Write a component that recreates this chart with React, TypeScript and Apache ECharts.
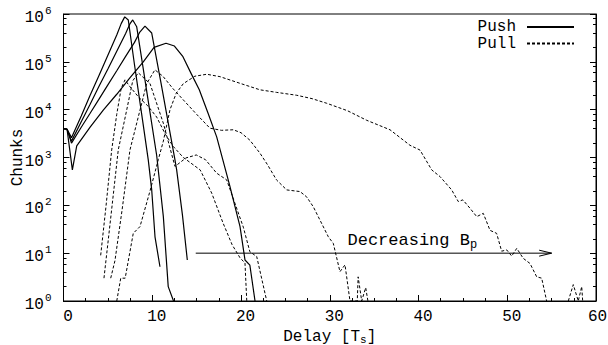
import React, { useEffect, useRef } from 'react';
import * as echarts from 'echarts';

const FONT = '"Liberation Mono", "DejaVu Sans Mono", monospace';

// Push curves (solid): [delay, chunks]
const pushA: [number, number][] = [
  [0, 4000], [0.4, 3900], [0.9, 2600], [2, 7400], [3, 20000], [4, 52000], [5, 138000],
  [6, 363000], [6.5, 630000], [6.9, 870000], [7.3, 750000], [8, 87000], [9, 4600],
  [9.55, 890], [9.94, 210], [10.31, 22], [10.87, 5.2],
];
const pushB: [number, number][] = [
  [0, 4000], [0.4, 3900], [0.9, 2200], [2, 5600], [3, 13000], [4, 31000], [5, 71000],
  [6, 166000], [7, 390000], [7.5, 630000], [7.8, 750000], [8.25, 540000], [9, 69000],
  [9.75, 8700], [10.5, 1100], [11.25, 58], [11.8, 2], [12.4, 1],
];
const pushC: [number, number][] = [
  [0, 4000], [0.4, 3900], [0.9, 2000], [2, 4300], [3, 8400], [4, 16600], [5, 33000],
  [6, 65000], [7, 130000], [8, 255000], [8.6, 420000], [9.18, 560000], [9.94, 400000],
  [11, 35000], [12, 3300], [12.56, 890], [12.75, 550], [13.4, 63], [13.95, 7.2],
];
const pushD: [number, number][] = [
  [0, 4000], [0.4, 3900], [1.0, 550], [1.49, 1750], [3, 4300], [4.48, 9800], [6, 21000],
  [7.5, 47000], [8.99, 100000], [10.2, 200000], [11.55, 245000], [12.5, 214000],
  [13.46, 128000], [14.4, 56000], [15.3, 26000], [16.3, 8300], [17.26, 2700],
  [18.76, 245], [19.89, 36], [20.45, 7.2], [21.0, 5.6], [21.58, 1],
];

// Pull curves (dashed)
const pullA: [number, number][] = [
  [4.19, 9], [4.8, 100], [5.43, 1440], [6.0, 8000], [6.5, 28000], [6.93, 42000],
  [7.5, 30000], [8.5, 18000], [9.5, 12000], [10.5, 7000], [11.5, 3000], [12.37, 1700],
  [13.5, 1000], [15.4, 550], [16.7, 180], [17.97, 43], [19.0, 15], [19.89, 8],
  [20.45, 6.2], [20.65, 1],
];
const pullB: [number, number][] = [
  [4.56, 3], [5.0, 16], [5.6, 160], [6.17, 1440], [7.12, 9800], [7.8, 40000],
  [8.43, 59000], [9.1, 45000], [9.75, 35000], [11.25, 5200], [12.56, 650], [13.8, 980],
  [14.96, 1130], [16.0, 900], [17.26, 470], [18.39, 340], [20.26, 35], [21.0, 10.7],
  [21.77, 8.5], [22.9, 1],
];
const pullC: [number, number][] = [
  [5.32, 3], [5.8, 7], [6.6, 80], [7.49, 1440], [8.62, 9800], [9.37, 35000],
  [10.3, 68000], [11.2, 50000], [12.3, 28000], [13.5, 16000], [15, 8000], [16.5, 4100],
  [17.8, 3700], [19.13, 3800], [20, 3300], [21, 2300], [22.14, 1230], [23, 700],
  [24, 340], [25.15, 210], [26.65, 194], [27.4, 150], [28.15, 93], [29.84, 22],
  [30.4, 16], [31.15, 4.1], [31.72, 5.7], [32.28, 1], [33.1, 1], [33.2, 3.2],
  [33.6, 1], [34.05, 1.9], [34.3, 1],
];
const pullD: [number, number | null][] = [
  [6.0, 1], [6.45, 3], [6.95, 3], [7.86, 26], [8.62, 36], [9.75, 200], [10.68, 900],
  [11.25, 2200], [12.0, 10000], [12.7, 22000], [13.5, 35000], [14.8, 50000],
  [16.14, 55000], [17.63, 49000], [20, 35000], [22.14, 26000], [24, 23000],
  [26.28, 20000], [28, 17000], [29.66, 13600], [32, 9500], [34.16, 6000],
  [36.79, 3800], [39.04, 1800], [40.17, 1430], [41.49, 550], [42.42, 400],
  [43.74, 210], [44.48, 120], [45.0, 130], [45.8, 87], [46.56, 58], [47.3, 68],
  [48.06, 30], [48.8, 26], [49.37, 11], [49.94, 11.7], [50.5, 8.7], [51.07, 12.6],
  [51.8, 7.8], [52.56, 6.1], [53.32, 3.2], [53.88, 3], [54.44, 1], [55.5, null],
  [56.88, 1], [57.44, 2.2], [58.0, 1], [58.39, 2], [58.5, 1],
];

const pushCurves = [pushA, pushB, pushC, pushD];
const pullCurves = [pullA, pullB, pullC, pullD];

const legendNames = ['Push', 'Pull'];
const xName = 'Delay [T{s|s}]';
const yName = 'Chunks';
const xRange = [0, 60];
const xStep = 10;
const yRange = [1, 1e6];
const minorMantissas = [2, 4, 6, 8];

const annotation = 'Decreasing B{s|p}';
const arrowFrom = [14.9, 10];
const arrowTo = [55, 10];
const annotationAt = [32, 10];

const FS = 16;

export default function App() {
  const ref = useRef<HTMLDivElement>(null);
  useEffect(() => {
    const chart = echarts.init(ref.current!, undefined, { renderer: 'svg' });
    const minorValues: number[] = [];
    for (let e = 0; e < 6; e++) for (const m of minorMantissas) minorValues.push(m * Math.pow(10, e));

    const logAxis = (position: 'left' | 'right', major: boolean, labels: boolean) => ({
      type: 'log',
      logBase: 10,
      min: yRange[0],
      max: yRange[1],
      interval: 1,
      position,
      name: labels ? yName : '',
      nameLocation: 'middle',
      nameGap: 38,
      nameMoveOverlap: false,
      nameTextStyle: { fontFamily: FONT, fontSize: FS, color: '#000' },
      axisLine: { show: major, lineStyle: { color: '#000', width: 1 } },
      axisTick: major
        ? { show: true, inside: true, length: 6, lineStyle: { color: '#000' } }
        : { show: true, inside: true, length: 3, lineStyle: { color: '#000' }, customValues: minorValues },
      axisLabel: labels
        ? {
            show: true,
            margin: 12,
            formatter: (v: number) => `{b|10}{e|${Math.round(Math.log10(v))}}`,
            rich: {
              b: { fontFamily: FONT, fontSize: FS, color: '#000', padding: [8, 0, 0, 0] },
              e: { fontFamily: FONT, fontSize: 11, color: '#000', padding: [0, 0, 6, 1] },
            },
          }
        : { show: false },
      splitLine: { show: false },
    });

    const series: any[] = [];
    pushCurves.forEach((d) =>
      series.push({
        type: 'line', name: legendNames[0], data: d, symbol: 'none', showSymbol: false,
        xAxisIndex: 0, yAxisIndex: 0, lineStyle: { color: '#000', width: 1.2, type: 'solid' },
        itemStyle: { color: '#000' }, connectNulls: false,
      })
    );
    pullCurves.forEach((d) =>
      series.push({
        type: 'line', name: legendNames[1], data: d, symbol: 'none', showSymbol: false,
        xAxisIndex: 0, yAxisIndex: 0, lineStyle: { color: '#000', width: 1, type: [3, 2] },
        itemStyle: { color: '#000' }, connectNulls: false,
      })
    );

    chart.setOption({
      animation: false,
      backgroundColor: '#fff',
      grid: {
        left: 63.5, right: 12, top: 14, bottom: 44, show: true, borderColor: '#000', borderWidth: 1,
        containLabel: false, outerBoundsMode: 'none',
      },
      legend: {
        data: legendNames,
        orient: 'vertical',
        right: 28,
        top: 14,
        align: 'right',
        itemWidth: 47,
        itemHeight: 10,
        itemGap: 0.5,
        itemStyle: { color: 'rgba(0,0,0,0)', borderColor: 'rgba(0,0,0,0)', borderWidth: 0 },
        textStyle: { fontFamily: FONT, fontSize: FS, lineHeight: 14, color: '#000', padding: [0, 6, 0, 0] },
      },
      xAxis: {
        type: 'value',
        min: xRange[0],
        max: xRange[1],
        interval: xStep,
        name: xName,
        nameLocation: 'middle',
        nameGap: 27,
        nameMoveOverlap: false,
        nameTextStyle: {
          fontFamily: FONT, fontSize: FS, color: '#000',
          rich: { s: { fontFamily: FONT, fontSize: 11, color: '#000', padding: [6, 0, 0, 0] } },
        },
        axisLine: { show: true, lineStyle: { color: '#000' } },
        axisTick: { show: true, inside: true, length: 6, lineStyle: { color: '#000' } },
        minorTick: { show: true, splitNumber: 4, length: 3, lineStyle: { color: '#000' } },
        axisLabel: {
          margin: 8,
          formatter: (v: number) => (v >= xRange[1] ? `{e|${v}}` : `{n|${v}}`),
          rich: {
            n: { fontFamily: FONT, fontSize: FS, color: '#000', padding: [0, 0, 0, 9] },
            e: { fontFamily: FONT, fontSize: FS, color: '#000', padding: [0, 0, 0, 3] },
          },
        },
        splitLine: { show: false },
      },
      yAxis: [logAxis('left', true, true), logAxis('left', false, false), logAxis('right', true, false), logAxis('right', false, false)],
      series,
    });

    const f = { xAxisIndex: 0, yAxisIndex: 0 };
    const a0 = chart.convertToPixel(f, arrowFrom) as number[];
    const a1 = chart.convertToPixel(f, arrowTo) as number[];
    const t0 = chart.convertToPixel(f, annotationAt) as number[];
    chart.setOption({
      graphic: [
        { type: 'line', shape: { x1: a0[0], y1: a0[1], x2: a1[0], y2: a1[1] }, style: { stroke: '#000', lineWidth: 1 }, z: 10 },
        {
          type: 'polyline',
          shape: { points: [[a1[0] - 12.5, a1[1] - 3], [a1[0], a1[1]], [a1[0] - 12.5, a1[1] + 3]] },
          style: { stroke: '#000', lineWidth: 1, fill: 'none' }, z: 10,
        },
        {
          type: 'text', x: t0[0], y: t0[1] - 13, z: 10,
          style: {
            text: annotation, fontFamily: FONT, fontSize: 17, fill: '#000',
            verticalAlign: 'middle', align: 'left',
            rich: { s: { fontFamily: FONT, fontSize: 12, fill: '#000', padding: [9, 0, 0, 0] } },
          },
        },
      ],
    });
    return () => chart.dispose();
  }, []);
  return <div ref={ref} style={{ position: 'fixed', left: 0, top: 0, width: 608, height: 345 }} />;
}
